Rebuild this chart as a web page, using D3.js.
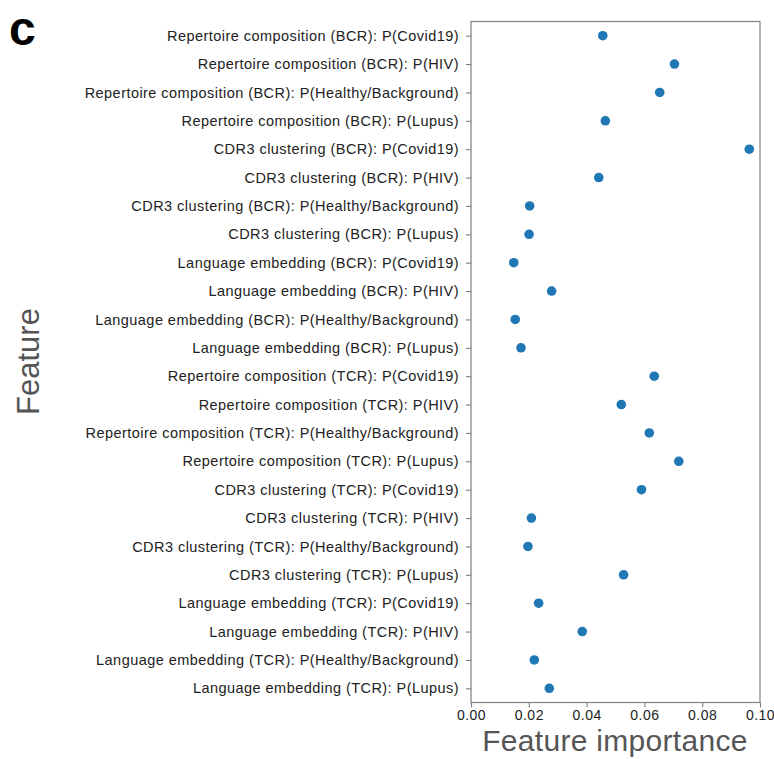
<!DOCTYPE html>
<html><head><meta charset="utf-8">
<script src="https://cdn.jsdelivr.net/npm/d3@7"></script>
<style>body{margin:0;background:#fff;} svg{display:block;}</style>
</head><body>
<script>
const features = [
  "Repertoire composition (BCR): P(Covid19)",
  "Repertoire composition (BCR): P(HIV)",
  "Repertoire composition (BCR): P(Healthy/Background)",
  "Repertoire composition (BCR): P(Lupus)",
  "CDR3 clustering (BCR): P(Covid19)",
  "CDR3 clustering (BCR): P(HIV)",
  "CDR3 clustering (BCR): P(Healthy/Background)",
  "CDR3 clustering (BCR): P(Lupus)",
  "Language embedding (BCR): P(Covid19)",
  "Language embedding (BCR): P(HIV)",
  "Language embedding (BCR): P(Healthy/Background)",
  "Language embedding (BCR): P(Lupus)",
  "Repertoire composition (TCR): P(Covid19)",
  "Repertoire composition (TCR): P(HIV)",
  "Repertoire composition (TCR): P(Healthy/Background)",
  "Repertoire composition (TCR): P(Lupus)",
  "CDR3 clustering (TCR): P(Covid19)",
  "CDR3 clustering (TCR): P(HIV)",
  "CDR3 clustering (TCR): P(Healthy/Background)",
  "CDR3 clustering (TCR): P(Lupus)",
  "Language embedding (TCR): P(Covid19)",
  "Language embedding (TCR): P(HIV)",
  "Language embedding (TCR): P(Healthy/Background)",
  "Language embedding (TCR): P(Lupus)"
];
const importance = [
  0.0456, 0.0704, 0.0653, 0.0465, 0.0963, 0.0442,
  0.0203, 0.0201, 0.0148, 0.0279, 0.0153, 0.0173,
  0.0634, 0.0520, 0.0617, 0.0719, 0.0590, 0.0209,
  0.0197, 0.0528, 0.0234, 0.0385, 0.0219, 0.0271
];
const xTicks = [0, 0.02, 0.04, 0.06, 0.08, 0.10];

const W = 774, H = 759;
const m = {left: 471, right: 760, top: 21.5, bottom: 702.5};
const font = "'Liberation Sans', Arial, Helvetica, sans-serif";

const svg = d3.select("body").append("svg").attr("width", W).attr("height", H);

const x = d3.scaleLinear().domain([0, 0.10]).range([m.left, m.right]);
const y = d3.scalePoint().domain(features).range([m.top, m.bottom]).padding(0.5);

svg.append("rect").attr("x", m.left).attr("y", m.top)
  .attr("width", m.right - m.left).attr("height", m.bottom - m.top)
  .attr("fill", "none").attr("stroke", "#808080").attr("stroke-width", 1.2);

const xAxis = svg.append("g").attr("transform", `translate(0,${m.bottom})`)
  .call(d3.axisBottom(x).tickValues(xTicks).tickFormat(d3.format(".2f")).tickSize(5).tickPadding(3));
const yAxis = svg.append("g").attr("transform", `translate(${m.left},0)`)
  .call(d3.axisLeft(y).tickSize(5).tickPadding(7));

[xAxis, yAxis].forEach(g => {
  g.select(".domain").remove();
  g.selectAll(".tick line").attr("stroke", "#808080").attr("stroke-width", 1.1);
  g.selectAll(".tick text").attr("fill", "#222").style("font-family", font)
    .style("font-size", "14.5px").style("letter-spacing", "0.45px");
});
xAxis.selectAll(".tick text").style("font-size", "14px").style("letter-spacing", "0.5px");

svg.append("g").selectAll("circle").data(features).join("circle")
  .attr("cx", (d, i) => x(importance[i]))
  .attr("cy", d => y(d))
  .attr("r", 4.8)
  .attr("fill", "#1f77b4");

svg.append("text").attr("x", 615).attr("y", 751)
  .attr("text-anchor", "middle").attr("fill", "#555")
  .style("font-family", font).style("font-size", "30px").style("letter-spacing", "0.3px")
  .text("Feature importance");

svg.append("text").attr("transform", `translate(38.5,361.5) rotate(-90)`)
  .attr("text-anchor", "middle").attr("fill", "#555")
  .style("font-family", font).style("font-size", "31px").text("Feature");

svg.append("text").attr("x", 9).attr("y", 45)
  .attr("fill", "#000").style("font-family", font).style("font-weight", "bold")
  .style("font-size", "48px").text("c");
</script>
</body></html>
